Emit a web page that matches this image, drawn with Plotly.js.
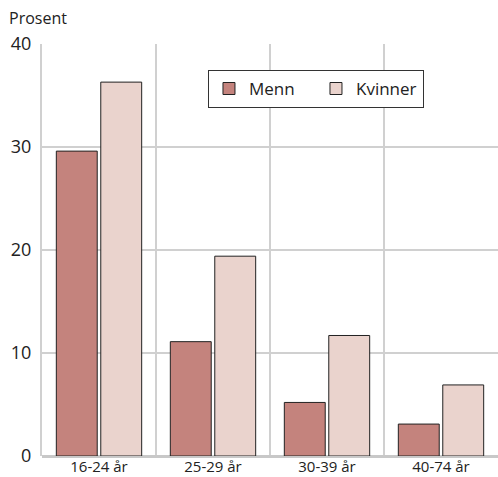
<!DOCTYPE html>
<html>
<head>
<meta charset="utf-8">
<script src="https://cdn.plot.ly/plotly-3.0.1.min.js"></script>
<style>html,body{margin:0;padding:0;background:#fff;}#chart{width:498px;height:477px;}</style>
</head>
<body>
<div id="chart"></div>
<script>
const categories = ["16-24 år", "25-29 år", "30-39 år", "40-74 år"];
const menn = [29.6, 11.1, 5.2, 3.1];
const kvinner = [36.3, 19.4, 11.7, 6.9];
const yTicks = [0, 10, 20, 30, 40];

const font = "'Open Sans', 'Noto Sans', sans-serif";

const traces = [
  {type: "bar", name: "Menn", x: categories, y: menn,
   marker: {color: "#c4837d", line: {color: "#222", width: 1}}},
  {type: "bar", name: "Kvinner", x: categories, y: kvinner,
   marker: {color: "#ead3cd", line: {color: "#222", width: 1}}}
];

const layout = {
  width: 498, height: 477,
  margin: {l: 42, r: 0, t: 44, b: 21},
  paper_bgcolor: "#fff", plot_bgcolor: "#fff",
  font: {family: font, color: "#222", size: 16},
  barmode: "group", bargap: 0.22, bargroupgap: 0.08,
  showlegend: true,
  legend: {orientation: "h", x: 0.364, y: 0.937, xanchor: "left", yanchor: "top",
    bgcolor: "#fff", bordercolor: "#333", borderwidth: 1,
    font: {size: 17, family: font, color: "#222"}, traceorder: "normal",
    itemwidth: 30, entrywidth: 62, entrywidthmode: "pixels"},
  xaxis: {type: "category", tickson: "boundaries", showgrid: true, gridcolor: "#d0d0d0", gridwidth: 2,
    ticks: "", showline: false, zeroline: false, automargin: false,
    tickfont: {size: 15, family: font, color: "#222"}, ticklabelstandoff: 0},
  yaxis: {range: [0, 40], tickvals: yTicks, showgrid: true, gridcolor: "#d0d0d0", gridwidth: 2,
    zeroline: true, zerolinecolor: "#c8c8c8", zerolinewidth: 3, ticks: "",
    showline: true, linecolor: "#d0d0d0", linewidth: 2,
    automargin: false, tickfont: {size: 18, family: font, color: "#222"}, ticklabelstandoff: 5},
  annotations: [{text: "Prosent", xref: "paper", yref: "paper", x: -0.077, y: 1, yshift: 26,
    xanchor: "left", yanchor: "middle", showarrow: false, font: {size: 16, family: font, color: "#222"}}]
};

Plotly.newPlot("chart", traces, layout, {displayModeBar: false, staticPlot: true});
</script>
</body>
</html>
